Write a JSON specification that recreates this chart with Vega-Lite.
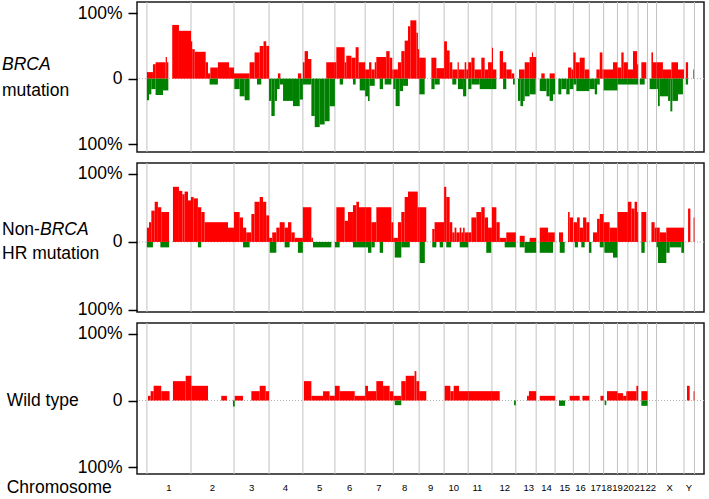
{
  "$schema": "https://vega.github.io/schema/vega-lite/v6.json",
  "padding": {"left": 0, "top": 0, "right": 0, "bottom": 0},
  "background": "white",
  "config": {
    "view": {"stroke": "#1a1a1a", "strokeWidth": 1.5},
    "font": "Liberation Sans",
    "text": {"font": "Liberation Sans", "color": "#000"}
  },
  "datasets": {
    "bnd": [{"pos":0},{"pos":249},{"pos":492},{"pos":690},{"pos":881},{"pos":1062},{"pos":1233},{"pos":1392},{"pos":1538},{"pos":1679},{"pos":1815},{"pos":1949},{"pos":2084},{"pos":2199},{"pos":2306},{"pos":2409},{"pos":2499},{"pos":2580},{"pos":2658},{"pos":2717},{"pos":2775},{"pos":2828},{"pos":2879},{"pos":3034},{"pos":3093}],
    "chrlab": [{"c":"1","lp":124},{"c":"2","lp":370},{"c":"3","lp":592},{"c":"4","lp":782},{"c":"5","lp":976},{"c":"6","lp":1145},{"c":"7","lp":1311},{"c":"8","lp":1456},{"c":"9","lp":1603},{"c":"10","lp":1733},{"c":"11","lp":1867},{"c":"12","lp":2021},{"c":"13","lp":2157},{"c":"14","lp":2257},{"c":"15","lp":2360},{"c":"16","lp":2450},{"c":"17","lp":2536},{"c":"18","lp":2597},{"c":"19","lp":2659},{"c":"20","lp":2721},{"c":"21","lp":2784},{"c":"22","lp":2846},{"c":"X","lp":2953},{"c":"Y","lp":3062}],
    "gain": [
      {"p":1,"s":0,"e":34,"v":10},{"p":1,"s":34,"e":49,"v":22},{"p":1,"s":49,"e":106,"v":25},{"p":1,"s":106,"e":113,"v":33},{"p":1,"s":113,"e":121,"v":25},{"p":1,"s":143,"e":181,"v":82},{"p":1,"s":181,"e":249,"v":73},
      {"p":1,"s":249,"e":256,"v":57},{"p":1,"s":256,"e":270,"v":45},{"p":1,"s":270,"e":332,"v":41},{"p":1,"s":332,"e":345,"v":25},{"p":1,"s":345,"e":358,"v":8},{"p":1,"s":358,"e":401,"v":17},{"p":1,"s":401,"e":464,"v":25},{"p":1,"s":464,"e":492,"v":17},
      {"p":1,"s":492,"e":580,"v":8},{"p":1,"s":580,"e":608,"v":25},{"p":1,"s":608,"e":637,"v":40},{"p":1,"s":637,"e":659,"v":50},{"p":1,"s":659,"e":674,"v":57},{"p":1,"s":674,"e":690,"v":50},
      {"p":1,"s":740,"e":754,"v":8},{"p":1,"s":853,"e":872,"v":8},
      {"p":1,"s":881,"e":891,"v":25},{"p":1,"s":891,"e":910,"v":42},{"p":1,"s":910,"e":929,"v":30},{"p":1,"s":1013,"e":1062,"v":25},
      {"p":1,"s":1062,"e":1070,"v":25},{"p":1,"s":1070,"e":1117,"v":48},{"p":1,"s":1117,"e":1126,"v":25},{"p":1,"s":1126,"e":1155,"v":35},{"p":1,"s":1155,"e":1179,"v":32},{"p":1,"s":1179,"e":1196,"v":48},{"p":1,"s":1196,"e":1233,"v":25},
      {"p":1,"s":1233,"e":1255,"v":14},{"p":1,"s":1255,"e":1268,"v":25},{"p":1,"s":1268,"e":1287,"v":14},{"p":1,"s":1287,"e":1296,"v":25},{"p":1,"s":1296,"e":1352,"v":33},{"p":1,"s":1352,"e":1371,"v":42},{"p":1,"s":1371,"e":1386,"v":32},{"p":1,"s":1386,"e":1392,"v":14},
      {"p":1,"s":1392,"e":1418,"v":14},{"p":1,"s":1418,"e":1437,"v":25},{"p":1,"s":1437,"e":1456,"v":42},{"p":1,"s":1456,"e":1475,"v":58},{"p":1,"s":1475,"e":1488,"v":80},{"p":1,"s":1488,"e":1522,"v":89},{"p":1,"s":1522,"e":1531,"v":70},{"p":1,"s":1531,"e":1538,"v":45},
      {"p":1,"s":1538,"e":1575,"v":32},{"p":1,"s":1607,"e":1635,"v":32},{"p":1,"s":1635,"e":1679,"v":16},
      {"p":1,"s":1679,"e":1695,"v":57},{"p":1,"s":1695,"e":1710,"v":43},{"p":1,"s":1710,"e":1725,"v":25},{"p":1,"s":1725,"e":1755,"v":14},{"p":1,"s":1755,"e":1762,"v":25},{"p":1,"s":1762,"e":1795,"v":14},{"p":1,"s":1795,"e":1804,"v":25},{"p":1,"s":1804,"e":1815,"v":14},
      {"p":1,"s":1815,"e":1833,"v":25},{"p":1,"s":1833,"e":1851,"v":32},{"p":1,"s":1851,"e":1889,"v":14},{"p":1,"s":1889,"e":1908,"v":32},{"p":1,"s":1908,"e":1927,"v":14},{"p":1,"s":1927,"e":1949,"v":25},
      {"p":1,"s":1949,"e":1955,"v":47},{"p":1,"s":1955,"e":1974,"v":14},{"p":1,"s":1993,"e":2012,"v":42},{"p":1,"s":2012,"e":2030,"v":25},{"p":1,"s":2030,"e":2060,"v":14},{"p":1,"s":2060,"e":2075,"v":8},
      {"p":1,"s":2102,"e":2134,"v":14},{"p":1,"s":2134,"e":2162,"v":25},{"p":1,"s":2162,"e":2175,"v":33},{"p":1,"s":2175,"e":2181,"v":40},{"p":1,"s":2181,"e":2199,"v":33},
      {"p":1,"s":2228,"e":2247,"v":8},{"p":1,"s":2275,"e":2304,"v":8},
      {"p":1,"s":2379,"e":2398,"v":17},{"p":1,"s":2398,"e":2409,"v":14},
      {"p":1,"s":2409,"e":2422,"v":40},{"p":1,"s":2422,"e":2445,"v":25},{"p":1,"s":2445,"e":2473,"v":32},{"p":1,"s":2473,"e":2499,"v":14},
      {"p":1,"s":2539,"e":2558,"v":14},{"p":1,"s":2558,"e":2573,"v":40},{"p":1,"s":2573,"e":2580,"v":14},
      {"p":1,"s":2580,"e":2633,"v":14},{"p":1,"s":2633,"e":2658,"v":25},
      {"p":1,"s":2658,"e":2680,"v":17},{"p":1,"s":2680,"e":2693,"v":40},{"p":1,"s":2693,"e":2717,"v":25},
      {"p":1,"s":2717,"e":2746,"v":14},{"p":1,"s":2746,"e":2769,"v":42},{"p":1,"s":2769,"e":2775,"v":22},
      {"p":1,"s":2793,"e":2821,"v":25},
      {"p":1,"s":2850,"e":2859,"v":40},{"p":1,"s":2859,"e":2879,"v":25},
      {"p":1,"s":2879,"e":2915,"v":25},{"p":1,"s":2915,"e":2963,"v":14},{"p":1,"s":2963,"e":3000,"v":25},{"p":1,"s":3000,"e":3034,"v":14},
      {"p":1,"s":3044,"e":3057,"v":25},{"p":1,"s":3086,"e":3090,"v":14},

      {"p":2,"s":0,"e":12,"v":21},{"p":2,"s":12,"e":25,"v":29},{"p":2,"s":25,"e":44,"v":46},{"p":2,"s":44,"e":62,"v":59},{"p":2,"s":62,"e":81,"v":51},{"p":2,"s":81,"e":125,"v":44},{"p":2,"s":147,"e":181,"v":81},{"p":2,"s":181,"e":200,"v":75},{"p":2,"s":200,"e":213,"v":70},{"p":2,"s":213,"e":232,"v":74},{"p":2,"s":232,"e":249,"v":61},
      {"p":2,"s":249,"e":264,"v":66},{"p":2,"s":264,"e":288,"v":64},{"p":2,"s":288,"e":307,"v":51},{"p":2,"s":307,"e":326,"v":44},{"p":2,"s":326,"e":458,"v":29},{"p":2,"s":458,"e":492,"v":21},
      {"p":2,"s":492,"e":524,"v":44},{"p":2,"s":524,"e":543,"v":36},{"p":2,"s":543,"e":561,"v":21},{"p":2,"s":561,"e":590,"v":14},{"p":2,"s":590,"e":608,"v":41},{"p":2,"s":608,"e":637,"v":59},{"p":2,"s":637,"e":656,"v":66},{"p":2,"s":656,"e":674,"v":59},{"p":2,"s":674,"e":690,"v":39},
      {"p":2,"s":690,"e":708,"v":6},{"p":2,"s":708,"e":731,"v":14},{"p":2,"s":731,"e":750,"v":21},{"p":2,"s":750,"e":778,"v":29},{"p":2,"s":778,"e":797,"v":21},{"p":2,"s":797,"e":816,"v":29},{"p":2,"s":816,"e":835,"v":14},{"p":2,"s":835,"e":881,"v":6},
      {"p":2,"s":881,"e":929,"v":51},{"p":2,"s":929,"e":938,"v":6},
      {"p":2,"s":1070,"e":1117,"v":51},{"p":2,"s":1117,"e":1136,"v":31},{"p":2,"s":1136,"e":1164,"v":44},{"p":2,"s":1164,"e":1183,"v":54},{"p":2,"s":1183,"e":1198,"v":59},{"p":2,"s":1198,"e":1233,"v":51},
      {"p":2,"s":1233,"e":1268,"v":51},{"p":2,"s":1268,"e":1296,"v":29},{"p":2,"s":1296,"e":1381,"v":51},{"p":2,"s":1381,"e":1392,"v":29},
      {"p":2,"s":1392,"e":1418,"v":6},{"p":2,"s":1418,"e":1437,"v":29},{"p":2,"s":1437,"e":1456,"v":44},{"p":2,"s":1456,"e":1475,"v":66},{"p":2,"s":1475,"e":1530,"v":74},{"p":2,"s":1530,"e":1538,"v":51},
      {"p":2,"s":1538,"e":1578,"v":51},{"p":2,"s":1612,"e":1625,"v":19},{"p":2,"s":1625,"e":1679,"v":29},
      {"p":2,"s":1679,"e":1691,"v":81},{"p":2,"s":1691,"e":1710,"v":66},{"p":2,"s":1710,"e":1725,"v":29},{"p":2,"s":1725,"e":1738,"v":14},{"p":2,"s":1738,"e":1748,"v":21},{"p":2,"s":1748,"e":1767,"v":14},{"p":2,"s":1767,"e":1776,"v":21},{"p":2,"s":1776,"e":1786,"v":14},{"p":2,"s":1786,"e":1795,"v":21},{"p":2,"s":1795,"e":1815,"v":14},
      {"p":2,"s":1815,"e":1833,"v":14},{"p":2,"s":1833,"e":1861,"v":36},{"p":2,"s":1861,"e":1889,"v":44},{"p":2,"s":1889,"e":1908,"v":51},{"p":2,"s":1908,"e":1927,"v":36},{"p":2,"s":1927,"e":1949,"v":21},
      {"p":2,"s":1949,"e":1974,"v":51},{"p":2,"s":1974,"e":1993,"v":29},{"p":2,"s":1993,"e":2030,"v":6},{"p":2,"s":2030,"e":2084,"v":14},
      {"p":2,"s":2106,"e":2134,"v":9},{"p":2,"s":2162,"e":2199,"v":6},
      {"p":2,"s":2219,"e":2266,"v":21},{"p":2,"s":2266,"e":2304,"v":14},
      {"p":2,"s":2328,"e":2351,"v":14},{"p":2,"s":2379,"e":2388,"v":44},{"p":2,"s":2388,"e":2407,"v":36},
      {"p":2,"s":2411,"e":2430,"v":29},{"p":2,"s":2430,"e":2445,"v":36},{"p":2,"s":2445,"e":2464,"v":21},{"p":2,"s":2464,"e":2482,"v":36},{"p":2,"s":2482,"e":2499,"v":29},
      {"p":2,"s":2520,"e":2543,"v":14},{"p":2,"s":2543,"e":2558,"v":34},{"p":2,"s":2558,"e":2580,"v":41},
      {"p":2,"s":2580,"e":2614,"v":29},{"p":2,"s":2614,"e":2658,"v":21},
      {"p":2,"s":2658,"e":2717,"v":44},
      {"p":2,"s":2717,"e":2737,"v":59},{"p":2,"s":2737,"e":2755,"v":49},{"p":2,"s":2755,"e":2769,"v":59},{"p":2,"s":2769,"e":2775,"v":44},
      {"p":2,"s":2793,"e":2821,"v":44},
      {"p":2,"s":2850,"e":2868,"v":29},{"p":2,"s":2868,"e":2879,"v":21},
      {"p":2,"s":2879,"e":2897,"v":21},{"p":2,"s":2897,"e":2934,"v":14},{"p":2,"s":2934,"e":3034,"v":21},
      {"p":2,"s":3057,"e":3070,"v":49},{"p":2,"s":3088,"e":3093,"v":36},

      {"p":3,"s":6,"e":21,"v":7},{"p":3,"s":21,"e":38,"v":14},{"p":3,"s":38,"e":81,"v":22},{"p":3,"s":81,"e":128,"v":14},{"p":3,"s":147,"e":219,"v":29},{"p":3,"s":219,"e":251,"v":37},{"p":3,"s":251,"e":345,"v":22},
      {"p":3,"s":420,"e":452,"v":7},
      {"p":3,"s":496,"e":543,"v":7},{"p":3,"s":590,"e":637,"v":14},{"p":3,"s":637,"e":671,"v":22},{"p":3,"s":671,"e":690,"v":14},
      {"p":3,"s":887,"e":929,"v":29},{"p":3,"s":929,"e":995,"v":7},{"p":3,"s":995,"e":1032,"v":14},{"p":3,"s":1032,"e":1062,"v":7},
      {"p":3,"s":1062,"e":1089,"v":22},{"p":3,"s":1089,"e":1174,"v":14},{"p":3,"s":1174,"e":1233,"v":7},
      {"p":3,"s":1233,"e":1249,"v":22},{"p":3,"s":1249,"e":1296,"v":14},{"p":3,"s":1296,"e":1334,"v":29},{"p":3,"s":1334,"e":1371,"v":22},{"p":3,"s":1371,"e":1392,"v":14},
      {"p":3,"s":1392,"e":1437,"v":7},{"p":3,"s":1437,"e":1462,"v":29},{"p":3,"s":1462,"e":1512,"v":37},{"p":3,"s":1512,"e":1522,"v":44},{"p":3,"s":1522,"e":1538,"v":29},
      {"p":3,"s":1538,"e":1578,"v":14},
      {"p":3,"s":1682,"e":1714,"v":22},{"p":3,"s":1714,"e":1733,"v":14},{"p":3,"s":1733,"e":1763,"v":22},{"p":3,"s":1763,"e":1815,"v":14},
      {"p":3,"s":1815,"e":1949,"v":14},{"p":3,"s":1949,"e":1993,"v":14},
      {"p":3,"s":2147,"e":2158,"v":7},{"p":3,"s":2158,"e":2199,"v":14},
      {"p":3,"s":2219,"e":2306,"v":7},
      {"p":3,"s":2388,"e":2445,"v":7},{"p":3,"s":2460,"e":2499,"v":7},
      {"p":3,"s":2562,"e":2580,"v":7},
      {"p":3,"s":2599,"e":2658,"v":14},
      {"p":3,"s":2658,"e":2690,"v":11},{"p":3,"s":2690,"e":2708,"v":7},{"p":3,"s":2708,"e":2717,"v":14},
      {"p":3,"s":2717,"e":2765,"v":14},{"p":3,"s":2765,"e":2775,"v":22},
      {"p":3,"s":2793,"e":2828,"v":14},
      {"p":3,"s":3051,"e":3066,"v":22},{"p":3,"s":3088,"e":3093,"v":14}
    ],
    "loss": [
      {"p":1,"s":0,"e":12,"v":-33},{"p":1,"s":12,"e":25,"v":-24},{"p":1,"s":25,"e":49,"v":-16},{"p":1,"s":49,"e":91,"v":-25},{"p":1,"s":91,"e":121,"v":-18},
      {"p":1,"s":354,"e":401,"v":-9},
      {"p":1,"s":494,"e":524,"v":-16},{"p":1,"s":524,"e":552,"v":-27},{"p":1,"s":552,"e":580,"v":-33},{"p":1,"s":622,"e":646,"v":-9},
      {"p":1,"s":690,"e":703,"v":-34},{"p":1,"s":703,"e":722,"v":-57},{"p":1,"s":722,"e":735,"v":-34},{"p":1,"s":735,"e":750,"v":-16},{"p":1,"s":750,"e":769,"v":-9},{"p":1,"s":769,"e":825,"v":-34},{"p":1,"s":825,"e":863,"v":-42},{"p":1,"s":863,"e":881,"v":-32},
      {"p":1,"s":881,"e":929,"v":-9},{"p":1,"s":929,"e":948,"v":-57},{"p":1,"s":948,"e":976,"v":-74},{"p":1,"s":976,"e":1004,"v":-70},{"p":1,"s":1004,"e":1032,"v":-65},{"p":1,"s":1032,"e":1062,"v":-42},
      {"p":1,"s":1089,"e":1108,"v":-9},{"p":1,"s":1164,"e":1179,"v":-9},{"p":1,"s":1202,"e":1233,"v":-18},
      {"p":1,"s":1233,"e":1249,"v":-27},{"p":1,"s":1249,"e":1258,"v":-34},{"p":1,"s":1258,"e":1287,"v":-11},{"p":1,"s":1315,"e":1334,"v":-16},{"p":1,"s":1343,"e":1381,"v":-9},
      {"p":1,"s":1392,"e":1405,"v":-16},{"p":1,"s":1405,"e":1428,"v":-42},{"p":1,"s":1428,"e":1447,"v":-19},{"p":1,"s":1447,"e":1475,"v":-11},
      {"p":1,"s":1539,"e":1569,"v":-24},{"p":1,"s":1607,"e":1625,"v":-16},{"p":1,"s":1625,"e":1654,"v":-9},
      {"p":1,"s":1725,"e":1748,"v":-9},{"p":1,"s":1757,"e":1786,"v":-16},{"p":1,"s":1786,"e":1804,"v":-27},
      {"p":1,"s":1815,"e":1833,"v":-16},{"p":1,"s":1833,"e":1880,"v":-9},{"p":1,"s":1880,"e":1949,"v":-16},
      {"p":1,"s":1949,"e":1974,"v":-16},{"p":1,"s":2012,"e":2030,"v":-16},{"p":1,"s":2068,"e":2078,"v":-9},
      {"p":1,"s":2096,"e":2110,"v":-34},{"p":1,"s":2110,"e":2125,"v":-42},{"p":1,"s":2125,"e":2134,"v":-34},{"p":1,"s":2134,"e":2162,"v":-27},{"p":1,"s":2162,"e":2196,"v":-24},
      {"p":1,"s":2219,"e":2257,"v":-19},{"p":1,"s":2257,"e":2275,"v":-27},{"p":1,"s":2275,"e":2294,"v":-34},{"p":1,"s":2294,"e":2306,"v":-24},
      {"p":1,"s":2324,"e":2341,"v":-24},{"p":1,"s":2341,"e":2369,"v":-16},{"p":1,"s":2369,"e":2388,"v":-24},{"p":1,"s":2388,"e":2409,"v":-16},
      {"p":1,"s":2409,"e":2426,"v":-9},{"p":1,"s":2426,"e":2499,"v":-19},
      {"p":1,"s":2499,"e":2530,"v":-16},{"p":1,"s":2530,"e":2543,"v":-24},{"p":1,"s":2543,"e":2558,"v":-9},
      {"p":1,"s":2580,"e":2658,"v":-18},
      {"p":1,"s":2658,"e":2717,"v":-9},
      {"p":1,"s":2717,"e":2775,"v":-9},
      {"p":1,"s":2784,"e":2812,"v":-9},
      {"p":1,"s":2840,"e":2879,"v":-16},
      {"p":1,"s":2879,"e":2887,"v":-16},{"p":1,"s":2887,"e":2897,"v":-42},{"p":1,"s":2897,"e":2944,"v":-27},{"p":1,"s":2944,"e":2957,"v":-34},{"p":1,"s":2957,"e":2968,"v":-50},{"p":1,"s":2968,"e":3000,"v":-34},{"p":1,"s":3000,"e":3028,"v":-24},
      {"p":1,"s":3044,"e":3057,"v":-9},

      {"p":2,"s":0,"e":34,"v":-8},{"p":2,"s":76,"e":125,"v":-8},
      {"p":2,"s":288,"e":307,"v":-8},
      {"p":2,"s":543,"e":580,"v":-8},
      {"p":2,"s":694,"e":731,"v":-16},{"p":2,"s":778,"e":806,"v":-8},{"p":2,"s":853,"e":881,"v":-16},
      {"p":2,"s":938,"e":1042,"v":-8},
      {"p":2,"s":1062,"e":1089,"v":-8},{"p":2,"s":1164,"e":1233,"v":-8},
      {"p":2,"s":1233,"e":1249,"v":-8},{"p":2,"s":1249,"e":1268,"v":-16},{"p":2,"s":1268,"e":1287,"v":-8},{"p":2,"s":1315,"e":1334,"v":-16},
      {"p":2,"s":1400,"e":1437,"v":-23},{"p":2,"s":1437,"e":1485,"v":-8},
      {"p":2,"s":1541,"e":1570,"v":-31},{"p":2,"s":1612,"e":1635,"v":-8},{"p":2,"s":1654,"e":1673,"v":-8},
      {"p":2,"s":1691,"e":1719,"v":-8},{"p":2,"s":1767,"e":1815,"v":-8},
      {"p":2,"s":1917,"e":1945,"v":-16},
      {"p":2,"s":2021,"e":2084,"v":-8},
      {"p":2,"s":2106,"e":2134,"v":-8},{"p":2,"s":2134,"e":2199,"v":-16},
      {"p":2,"s":2219,"e":2294,"v":-16},
      {"p":2,"s":2332,"e":2360,"v":-16},
      {"p":2,"s":2417,"e":2435,"v":-8},{"p":2,"s":2454,"e":2473,"v":-8},{"p":2,"s":2497,"e":2511,"v":-16},
      {"p":2,"s":2558,"e":2580,"v":-8},
      {"p":2,"s":2584,"e":2633,"v":-16},{"p":2,"s":2633,"e":2658,"v":-23},
      {"p":2,"s":2793,"e":2812,"v":-16},
      {"p":2,"s":2879,"e":2887,"v":-8},{"p":2,"s":2887,"e":2934,"v":-31},{"p":2,"s":2934,"e":2953,"v":-16},{"p":2,"s":2953,"e":3019,"v":-8},{"p":2,"s":3019,"e":3034,"v":-16},

      {"p":3,"s":486,"e":496,"v":-9},
      {"p":3,"s":1400,"e":1437,"v":-7},
      {"p":3,"s":2074,"e":2084,"v":-7},
      {"p":3,"s":2328,"e":2362,"v":-8},
      {"p":3,"s":2586,"e":2595,"v":-7},
      {"p":3,"s":2793,"e":2828,"v":-8}
    ]
  },
  "columns": 2,
  "bounds": "flush",
  "spacing": {"row": 11, "column": 10},
  "concat": [
    {
      "width": 127, "height": 150, "view": {"stroke": null},
      "layer": [
        {"data": {"values": [{"t": "BRCA"}]},
         "mark": {"type": "text", "align": "left", "baseline": "middle", "fontSize": 17.5, "fontStyle": "italic", "dx": -61.5, "dy": -14},
         "encoding": {"text": {"field": "t"}, "y": {"datum": 0, "scale": {"domain": [-112, 117]}, "axis": null}}},
        {"data": {"values": [{"t": "mutation"}]},
         "mark": {"type": "text", "align": "left", "baseline": "middle", "fontSize": 17.5, "dx": -61.5, "dy": 12},
         "encoding": {"text": {"field": "t"}, "y": {"datum": 0, "scale": {"domain": [-112, 117]}, "axis": null}}}
      ]
    },
    {
      "width": 567, "height": 150,
      "layer": [
        {"data": {"name": "bnd"}, "mark": {"type": "rule", "color": "#c2c2c2", "strokeWidth": 1},
         "encoding": {"x": {"field": "pos", "type": "quantitative", "scale": {"domain": [-56, 3147], "nice": false, "zero": false}, "axis": null}}},
        {"data": {"values": [{"z": 0}]}, "mark": {"type": "rule", "color": "#b0b0b0", "strokeDash": [1, 2], "strokeWidth": 1},
         "encoding": {"y": {"field": "z", "type": "quantitative", "scale": {"domain": [-112, 117], "nice": false}}}},
        {"data": {"name": "gain"}, "transform": [{"filter": "datum.p == 1"}],
         "mark": {"type": "rect", "color": "#ff0000"},
         "encoding": {
           "x": {"field": "s", "type": "quantitative", "scale": {"domain": [-56, 3147], "nice": false, "zero": false}, "axis": null},
           "x2": {"field": "e"},
           "y": {"field": "v", "type": "quantitative", "scale": {"domain": [-112, 117], "nice": false},
                 "axis": {"values": [-100, 0, 100], "labelExpr": "datum.value == 0 ? '0\u00a0\u00a0' : '100%'", "tickSize": 9, "tickWidth": 1.5, "tickColor": "#000", "domain": false, "grid": false, "labelFontSize": 17.5, "labelFont": "Liberation Sans", "labelColor": "#000", "labelPadding": 6, "title": null}},
           "y2": {"datum": 0}}},
        {"data": {"name": "loss"}, "transform": [{"filter": "datum.p == 1"}],
         "mark": {"type": "rect", "color": "#008000"},
         "encoding": {
           "x": {"field": "s", "type": "quantitative", "scale": {"domain": [-56, 3147], "nice": false, "zero": false}, "axis": null},
           "x2": {"field": "e"},
           "y": {"field": "v", "type": "quantitative", "scale": {"domain": [-112, 117], "nice": false}},
           "y2": {"datum": 0}}}
      ]
    },
    {
      "width": 127, "height": 149, "view": {"stroke": null},
      "layer": [
        {"data": {"values": [{"t": "Non-"}]},
         "mark": {"type": "text", "align": "left", "baseline": "middle", "fontSize": 17.5, "dx": -61.5, "dy": -12},
         "encoding": {"text": {"field": "t"}, "y": {"datum": 0, "scale": {"domain": [-103, 116]}, "axis": null}}},
        {"data": {"values": [{"t": "BRCA"}]},
         "mark": {"type": "text", "align": "left", "baseline": "middle", "fontSize": 17.5, "fontStyle": "italic", "dx": -23.5, "dy": -12},
         "encoding": {"text": {"field": "t"}, "y": {"datum": 0, "scale": {"domain": [-103, 116]}, "axis": null}}},
        {"data": {"values": [{"t": "HR mutation"}]},
         "mark": {"type": "text", "align": "left", "baseline": "middle", "fontSize": 17.5, "dx": -61.5, "dy": 12},
         "encoding": {"text": {"field": "t"}, "y": {"datum": 0, "scale": {"domain": [-103, 116]}, "axis": null}}}
      ]
    },
    {
      "width": 567, "height": 149,
      "layer": [
        {"data": {"name": "bnd"}, "mark": {"type": "rule", "color": "#c2c2c2", "strokeWidth": 1},
         "encoding": {"x": {"field": "pos", "type": "quantitative", "scale": {"domain": [-56, 3147], "nice": false, "zero": false}, "axis": null}}},
        {"data": {"values": [{"z": 0}]}, "mark": {"type": "rule", "color": "#b0b0b0", "strokeDash": [1, 2], "strokeWidth": 1},
         "encoding": {"y": {"field": "z", "type": "quantitative", "scale": {"domain": [-103, 116], "nice": false}}}},
        {"data": {"name": "gain"}, "transform": [{"filter": "datum.p == 2"}],
         "mark": {"type": "rect", "color": "#ff0000"},
         "encoding": {
           "x": {"field": "s", "type": "quantitative", "scale": {"domain": [-56, 3147], "nice": false, "zero": false}, "axis": null},
           "x2": {"field": "e"},
           "y": {"field": "v", "type": "quantitative", "scale": {"domain": [-103, 116], "nice": false},
                 "axis": {"values": [-100, 0, 100], "labelExpr": "datum.value == 0 ? '0\u00a0\u00a0' : '100%'", "tickSize": 9, "tickWidth": 1.5, "tickColor": "#000", "domain": false, "grid": false, "labelFontSize": 17.5, "labelFont": "Liberation Sans", "labelColor": "#000", "labelPadding": 6, "title": null}},
           "y2": {"datum": 0}}},
        {"data": {"name": "loss"}, "transform": [{"filter": "datum.p == 2"}],
         "mark": {"type": "rect", "color": "#008000"},
         "encoding": {
           "x": {"field": "s", "type": "quantitative", "scale": {"domain": [-56, 3147], "nice": false, "zero": false}, "axis": null},
           "x2": {"field": "e"},
           "y": {"field": "v", "type": "quantitative", "scale": {"domain": [-103, 116], "nice": false}},
           "y2": {"datum": 0}}}
      ]
    },
    {
      "width": 127, "height": 151, "view": {"stroke": null},
      "layer": [
        {"data": {"values": [{"t": "Wild type"}]},
         "mark": {"type": "text", "align": "left", "baseline": "middle", "fontSize": 17.5, "dx": -56.8, "dy": 0},
         "encoding": {"text": {"field": "t"}, "y": {"datum": 0, "scale": {"domain": [-110, 116]}, "axis": null}}}
      ]
    },
    {
      "width": 567, "height": 151,
      "layer": [
        {"data": {"name": "bnd"}, "mark": {"type": "rule", "color": "#c2c2c2", "strokeWidth": 1},
         "encoding": {"x": {"field": "pos", "type": "quantitative", "scale": {"domain": [-56, 3147], "nice": false, "zero": false}, "axis": null}}},
        {"data": {"values": [{"z": 0}]}, "mark": {"type": "rule", "color": "#b0b0b0", "strokeDash": [1, 2], "strokeWidth": 1},
         "encoding": {"y": {"field": "z", "type": "quantitative", "scale": {"domain": [-110, 116], "nice": false}}}},
        {"data": {"name": "gain"}, "transform": [{"filter": "datum.p == 3"}],
         "mark": {"type": "rect", "color": "#ff0000"},
         "encoding": {
           "x": {"field": "s", "type": "quantitative", "scale": {"domain": [-56, 3147], "nice": false, "zero": false}, "axis": null},
           "x2": {"field": "e"},
           "y": {"field": "v", "type": "quantitative", "scale": {"domain": [-110, 116], "nice": false},
                 "axis": {"values": [-100, 0, 100], "labelExpr": "datum.value == 0 ? '0\u00a0\u00a0' : '100%'", "tickSize": 9, "tickWidth": 1.5, "tickColor": "#000", "domain": false, "grid": false, "labelFontSize": 17.5, "labelFont": "Liberation Sans", "labelColor": "#000", "labelPadding": 6, "title": null}},
           "y2": {"datum": 0}}},
        {"data": {"name": "loss"}, "transform": [{"filter": "datum.p == 3"}],
         "mark": {"type": "rect", "color": "#008000"},
         "encoding": {
           "x": {"field": "s", "type": "quantitative", "scale": {"domain": [-56, 3147], "nice": false, "zero": false}, "axis": null},
           "x2": {"field": "e"},
           "y": {"field": "v", "type": "quantitative", "scale": {"domain": [-110, 116], "nice": false}},
           "y2": {"datum": 0}}}
      ]
    },
    {
      "width": 127, "height": 6, "view": {"stroke": null},
      "data": {"values": [{"t": "Chromosome"}]},
      "mark": {"type": "text", "align": "left", "baseline": "middle", "fontSize": 17.5, "dx": -56.8},
      "encoding": {"text": {"field": "t"}}
    },
    {
      "width": 567, "height": 6, "view": {"stroke": null},
      "data": {"name": "chrlab"},
      "mark": {"type": "text", "baseline": "middle", "font": "Liberation Sans", "fontSize": 9.5},
      "encoding": {
        "x": {"field": "lp", "type": "quantitative", "scale": {"domain": [-56, 3147], "nice": false, "zero": false}, "axis": null},
        "text": {"field": "c"}}
    }
  ]
}
